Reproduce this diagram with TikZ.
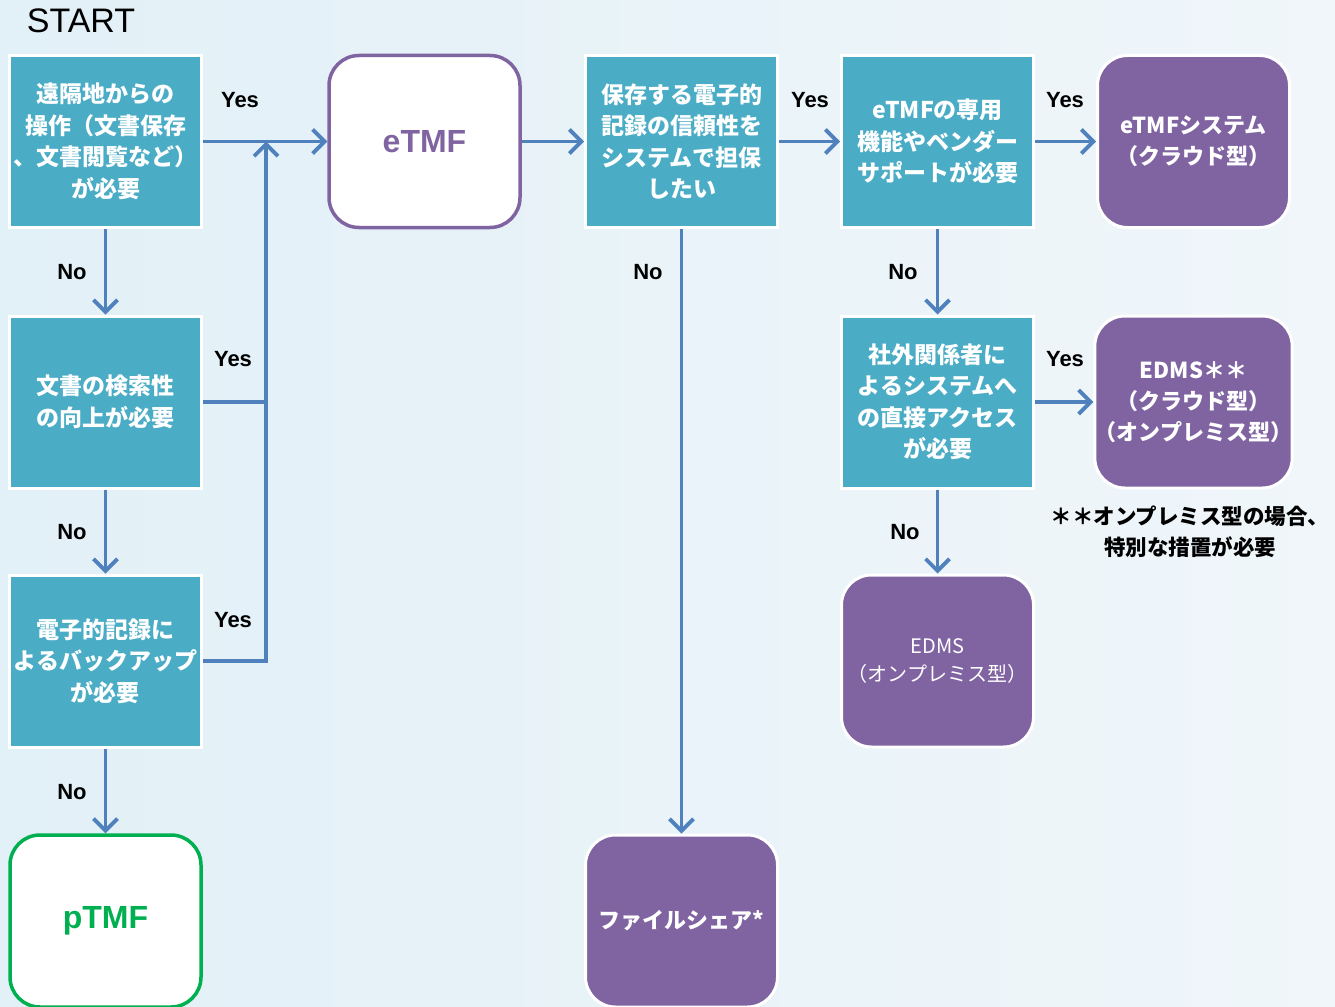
\documentclass[tikz,border=0pt]{standalone}
\usepackage{fontspec}
\setmainfont{Liberation Sans}
\newfontfamily\jp{Noto Sans CJK JP}
\usetikzlibrary{arrows.meta}
\definecolor{qteal}{HTML}{4BACC6}
\definecolor{rpurple}{HTML}{8064A2}
\definecolor{flowblue}{HTML}{4F81BD}
\definecolor{pgreen}{HTML}{00B050}
\definecolor{bgA}{HTML}{E2F0F7}
\definecolor{bgB}{HTML}{F0F6FA}
\tikzset{
  qbox/.style={rectangle, fill=qteal, draw=white, line width=3pt, minimum width=192pt,
    minimum height=172pt, inner sep=0pt, align=center, text=white,
    font=\jp\bfseries\fontsize{23}{31.5}\selectfont},
  resbox/.style={rectangle, rounded corners=30pt, fill=rpurple, draw=white, line width=3pt,
    minimum width=192pt, minimum height=172pt, inner sep=0pt, align=center, text=white,
    font=\jp\bfseries\fontsize{22}{31}\selectfont},
  outbox/.style={rectangle, rounded corners=30pt, fill=white, line width=3.5pt,
    minimum width=191pt, minimum height=172pt, inner sep=0pt},
  flow/.style={draw=flowblue, line width=3.8pt,
    -{Straight Barb[length=12pt,width=24pt,line width=3.8pt]}},
  plainline/.style={draw=flowblue, line width=3.8pt},
  lbl/.style={font=\bfseries\fontsize{22}{26}\selectfont, text=black, inner sep=0pt},
}
\begin{document}
\begin{tikzpicture}[x=1pt,y=-1pt]
\useasboundingbox (0,0) rectangle (1335,1006);
\shade[left color=bgA, right color=bgB] (0,0) rectangle (1335,1006);

\node[font=\fontsize{34}{38}\selectfont, inner sep=0pt] (start) at (81,21) {START};

% decision boxes
\node[qbox] (b1) at (105.5,141.5) {遠隔地からの\\操作（文書保存\\、文書閲覧など）\\が必要};
\node[qbox] (b2) at (105.5,402) {文書の検索性\\の向上が必要};
\node[qbox] (b3) at (105.5,661) {電子的記録に\\よるバックアップ\\が必要};
\node[qbox] (b4) at (681.5,141.5) {保存する電子的\\記録の信頼性を\\システムで担保\\したい};
\node[qbox] (b5) at (937.5,141.5) {eTMFの専用\\機能やベンダー\\サポートが必要};
\node[qbox] (b6) at (937.5,402) {社外関係者に\\よるシステムへ\\の直接アクセス\\が必要};

% outcomes
\node[outbox, draw=rpurple, text=rpurple, font=\bfseries\fontsize{32}{36}\selectfont] (etmf) at (424.5,141.5) {eTMF};
\node[outbox, draw=pgreen, text=pgreen, font=\bfseries\fontsize{32}{36}\selectfont] (ptmf) at (105.5,921) {pTMF};
\node[resbox] (sys) at (1193.5,141.5) {eTMFシステム\\（クラウド型）};
\node[resbox] (edms2) at (1193.5,402) {EDMS＊＊\\（クラウド型）\\（オンプレミス型）};
\node[resbox, font=\jp\fontsize{20}{28}\selectfont] (edms) at (937.5,661) {EDMS\\（オンプレミス型）};
\node[resbox] (fs) at (681.5,921) {ファイルシェア*};

\node[font=\jp\bfseries\fontsize{21.5}{31}\selectfont, align=center, inner sep=0pt] (note) at (1190,532) {＊＊オンプレミス型の場合、\\特別な措置が必要};

% connectors
\coordinate (j) at (266,141.5);
\draw[flow] (b1) -- (etmf);
\draw[plainline] (b2.east) -- (b2.east -| j);
\draw[flow] (b3.east) -| (j);
\draw[flow] (b1) -- (b2);
\draw[flow] (b2) -- (b3);
\draw[flow] (b3) -- (ptmf);
\draw[flow] (etmf) -- (b4);
\draw[flow] (b4) -- (b5);
\draw[flow] (b5) -- (sys);
\draw[flow] (b4) -- (fs);
\draw[flow] (b5) -- (b6);
\draw[flow] (b6) -- (edms2);
\draw[flow] (b6) -- (edms);

% labels
\node[lbl] (y1) at (240,100) {Yes};
\node[lbl] (y2) at (233,359) {Yes};
\node[lbl] (y3) at (233,620) {Yes};
\node[lbl] (y4) at (810,100) {Yes};
\node[lbl] (y5) at (1065,100) {Yes};
\node[lbl] (y6) at (1065,359) {Yes};
\node[lbl] (n1) at (72,272) {No};
\node[lbl] (n2) at (72,532) {No};
\node[lbl] (n3) at (72,792) {No};
\node[lbl] (n4) at (648,272) {No};
\node[lbl] (n5) at (903,272) {No};
\node[lbl] (n6) at (905,532) {No};
\end{tikzpicture}
\end{document}
